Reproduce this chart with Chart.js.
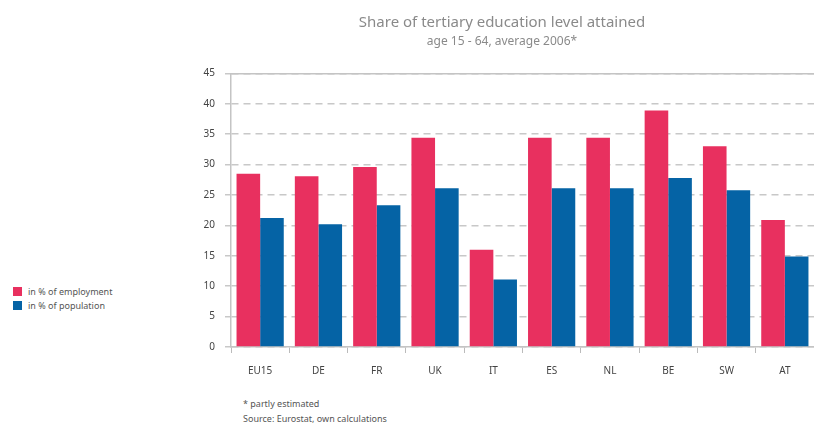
<!DOCTYPE html>
<html lang="en">
<head>
    <meta charset="UTF-8">
    <title>Share of tertiary education level attained</title>
    <script src="https://cdn.jsdelivr.net/npm/chart.js"></script>
    <style>
        body {
            margin: 0;
            padding: 0;
            background: #fff;
            font-family: "Noto Sans", Arial, sans-serif;
            width: 814px;
            height: 423px;
            position: relative;
            overflow: hidden;
        }
        #chartBox {
            position: absolute;
            left: 190px;
            top: 0;
            width: 624px;
            height: 385px;
        }
        .legend {
            position: absolute;
            left: 13px;
            top: 285px;
            font-size: 9px;
            color: #555;
        }
        .legend div {
            height: 14px;
            line-height: 14px;
            white-space: nowrap;
        }
        .legend span {
            display: inline-block;
            width: 9px;
            height: 9px;
            margin-right: 6px;
            vertical-align: -1px;
        }
        .notes {
            position: absolute;
            left: 243px;
            top: 396px;
            font-size: 9px;
            color: #555;
            line-height: 15px;
        }
    </style>
    <script>
        // datos
        const paises = ['EU15', 'DE', 'FR', 'UK', 'IT', 'ES', 'NL', 'BE', 'SW', 'AT'];
        const empleo = [28.5, 28.1, 29.6, 34.4, 16.0, 34.4, 34.4, 38.9, 33.0, 20.9];
        const poblacion = [21.2, 20.2, 23.3, 26.1, 11.1, 26.1, 26.1, 27.8, 25.8, 14.9];
        const nombresSeries = ['in % of employment', 'in % of population'];
        const colores = ['#e8305f', '#0563a5'];

        function dibujar() {
            const ctx = document.getElementById('grafico').getContext('2d');
            new Chart(ctx, {
                type: 'bar',
                data: {
                    labels: paises,
                    datasets: [{
                        label: nombresSeries[0],
                        data: empleo,
                        backgroundColor: colores[0],
                        borderWidth: 0
                    }, {
                        label: nombresSeries[1],
                        data: poblacion,
                        backgroundColor: colores[1],
                        borderWidth: 0
                    }]
                },
                options: {
                    responsive: true,
                    maintainAspectRatio: false,
                    animation: false,
                    layout: { padding: 0 },
                    datasets: {
                        bar: { categoryPercentage: 0.81, barPercentage: 1.0 }
                    },
                    plugins: {
                        legend: { display: false },
                        tooltip: { enabled: false },
                        title: {
                            display: true,
                            text: 'Share of tertiary education level attained',
                            color: '#8a8a8a',
                            font: { family: 'Noto Sans', size: 15, weight: 'normal' },
                            padding: { top: 14, bottom: 2 }
                        },
                        subtitle: {
                            display: true,
                            text: 'age 15 - 64, average 2006*',
                            color: '#8a8a8a',
                            font: { family: 'Noto Sans', size: 12 },
                            padding: { bottom: 25 }
                        }
                    },
                    scales: {
                        x: {
                            grid: {
                                offset: true,
                                drawOnChartArea: false,
                                tickLength: 6,
                                tickColor: '#bbb'
                            },
                            border: { color: '#c4c4c4', width: 1.5 },
                            ticks: {
                                color: '#444',
                                padding: 12,
                                font: { family: 'Noto Sans', size: 10 }
                            },
                            afterFit: s => { s.height = 38; }
                        },
                        top: {
                            axis: 'x',
                            position: 'top',
                            grid: { display: false, drawTicks: false },
                            ticks: { display: false },
                            border: { color: '#c4c4c4', width: 1.5 },
                            afterFit: s => { s.height = 0; }
                        },
                        y: {
                            min: 0,
                            max: 45,
                            ticks: {
                                stepSize: 5,
                                color: '#444',
                                padding: 10,
                                font: { family: 'Noto Sans', size: 10 }
                            },
                            grid: {
                                color: '#c8c8c8',
                                lineWidth: 1.5,
                                tickLength: 6,
                                tickColor: '#c8c8c8'
                            },
                            border: { color: '#c4c4c4', width: 1.5, dash: [7, 5] },
                            afterFit: s => { s.width = 41; }
                        }
                    }
                }
            });
        }

        window.onload = dibujar;
    </script>
</head>
<body>
    <div id="chartBox"><canvas id="grafico"></canvas></div>

    <div class="legend">
        <div><span style="background:#e8305f"></span>in % of employment</div>
        <div><span style="background:#0563a5"></span>in % of population</div>
    </div>

    <div class="notes">
        * partly estimated<br>
        Source: Eurostat, own calculations
    </div>
</body>
</html>
